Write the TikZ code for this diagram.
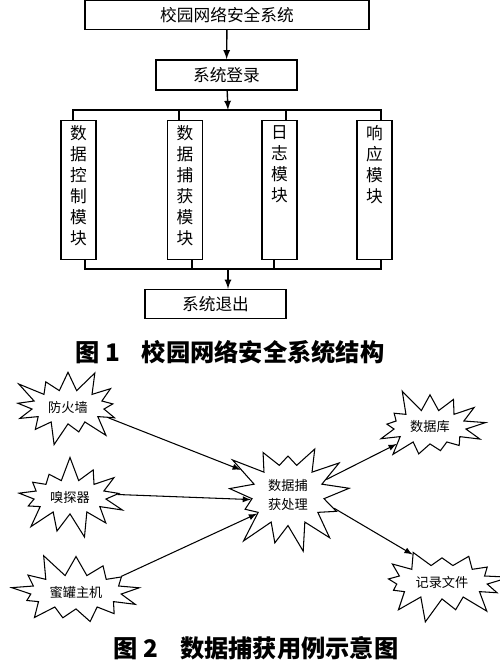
\documentclass[tikz,border=0pt]{standalone}
\usepackage{fontspec}
\newfontfamily\cjk{Noto Sans CJK SC}
\usetikzlibrary{positioning,shapes.symbols,arrows}
\newcommand{\stackcol}[1]{\parbox[c][2.58cm][t]{0.5cm}{\centering\baselineskip=0.42cm #1}}
\tikzstyle{wide} = [rectangle, draw=black, line width=0.8pt, minimum height=0.58cm, text centered, font=\cjk\fontsize{9.5}{12}\selectfont]
\tikzstyle{module} = [rectangle, draw=black, line width=0.8pt, minimum width=0.7cm, inner xsep=0.05cm, inner ysep=0.1cm, anchor=north, font=\cjk\fontsize{9.5}{12}\selectfont]
\tikzstyle{burst} = [starburst, draw=black, line width=0.6pt, starburst points=13, starburst point height=0.5cm, align=center, font=\cjk\fontsize{7.5}{11}\selectfont]
\tikzstyle{flow} = [line width=0.8pt, -latex]
\tikzstyle{usecase} = [line width=0.6pt, -latex]
\tikzstyle{caption} = [font=\cjk\bfseries\fontsize{13.8}{16}\selectfont]

\begin{document}
\begin{tikzpicture}[x=0.02cm, y=-0.02cm]
			\useasboundingbox (0,0) rectangle (500,664);
			% figure 1
			\node (sys) [wide, minimum width=5.68cm] at (227,15) {校园网络安全系统};
			\node (login) [wide, minimum width=2.82cm, minimum height=0.6cm] at (226.5,75) {系统登录};
			\node (m1) [module] at (78.5,120) {\stackcol{数\\据\\控\\制\\模\\块}};
			\node (m2) [module] at (185,120) {\stackcol{数\\据\\捕\\获\\模\\块}};
			\node (m3) [module] at (279.5,120) {\stackcol{日\\志\\模\\块}};
			\node (m4) [module] at (374.5,120) {\stackcol{响\\应\\模\\块}};
			\node (logout) [wide, minimum width=2.82cm] at (215.5,304) {系统退出};
			\coordinate (topbus) at (228,110);
			\coordinate (botbus) at (228,269);
			
			\draw [flow] (sys) -- (login);
			\draw [flow] (login) -- (topbus);
			\draw [line width=0.8pt] ([xshift=-0.11cm]m1.north) -- ([xshift=-0.11cm]m1.north |- topbus) -- ([xshift=0.13cm]m4.north |- topbus) -- ([xshift=0.13cm]m4.north);
			\draw [line width=0.8pt] ([xshift=-0.12cm]m2.north) -- ([xshift=-0.12cm]m2.north |- topbus);
			\draw [line width=0.8pt] ([xshift=0.13cm]m3.north) -- ([xshift=0.13cm]m3.north |- topbus);
			\draw [line width=0.8pt] ([xshift=0.13cm]m1.south) -- ([xshift=0.13cm]m1.south |- botbus) -- ([xshift=0.13cm]m4.south |- botbus) -- ([xshift=0.13cm]m4.south);
			\draw [line width=0.8pt] ([xshift=0.14cm]m2.south) -- ([xshift=0.14cm]m2.south |- botbus);
			\draw [line width=0.8pt] ([xshift=-0.11cm]m3.south) -- ([xshift=-0.11cm]m3.south |- botbus);
			\draw [flow] (botbus) -- (botbus |- logout.north);

			\node (cap1) [caption] at (230,352) {图~1\hspace{0.9em}校园网络安全系统结构};

			% figure 2
			\node (fw) [burst, minimum width=2cm, minimum height=1.35cm] at (68,407) {防火墙};
			\node (sniff) [burst, minimum width=2cm, minimum height=1.35cm, random starburst=7] at (70,497) {嗅探器};
			\node (honey) [burst, minimum width=2.75cm, minimum height=1.45cm, random starburst=11] at (76,592) {蜜罐主机};
			\node (proc) [burst, minimum width=2.65cm, minimum height=2.35cm, starburst point height=0.65cm, random starburst=23] at (288,495) {数据捕\\获处理};
			\node (db) [burst, minimum width=2cm, minimum height=1.35cm, random starburst=5] at (430,427) {数据库};
			\node (rec) [burst, minimum width=2.5cm, minimum height=1.55cm, random starburst=13] at (442,582) {记录文件};
			
			\draw [usecase] (fw.-15) -- (proc.152);
			\draw [usecase] (sniff.3) -- (proc.187);
			\draw [usecase] (honey.19) -- (proc.211);
			\draw [usecase] (proc.22) -- (db.207);
			\draw [usecase] (proc.-16) -- (rec.137);

			\node (cap2) [caption] at (256,648) {图~2\hspace{0.9em}数据捕获用例示意图};
\end{tikzpicture}
\end{document}
